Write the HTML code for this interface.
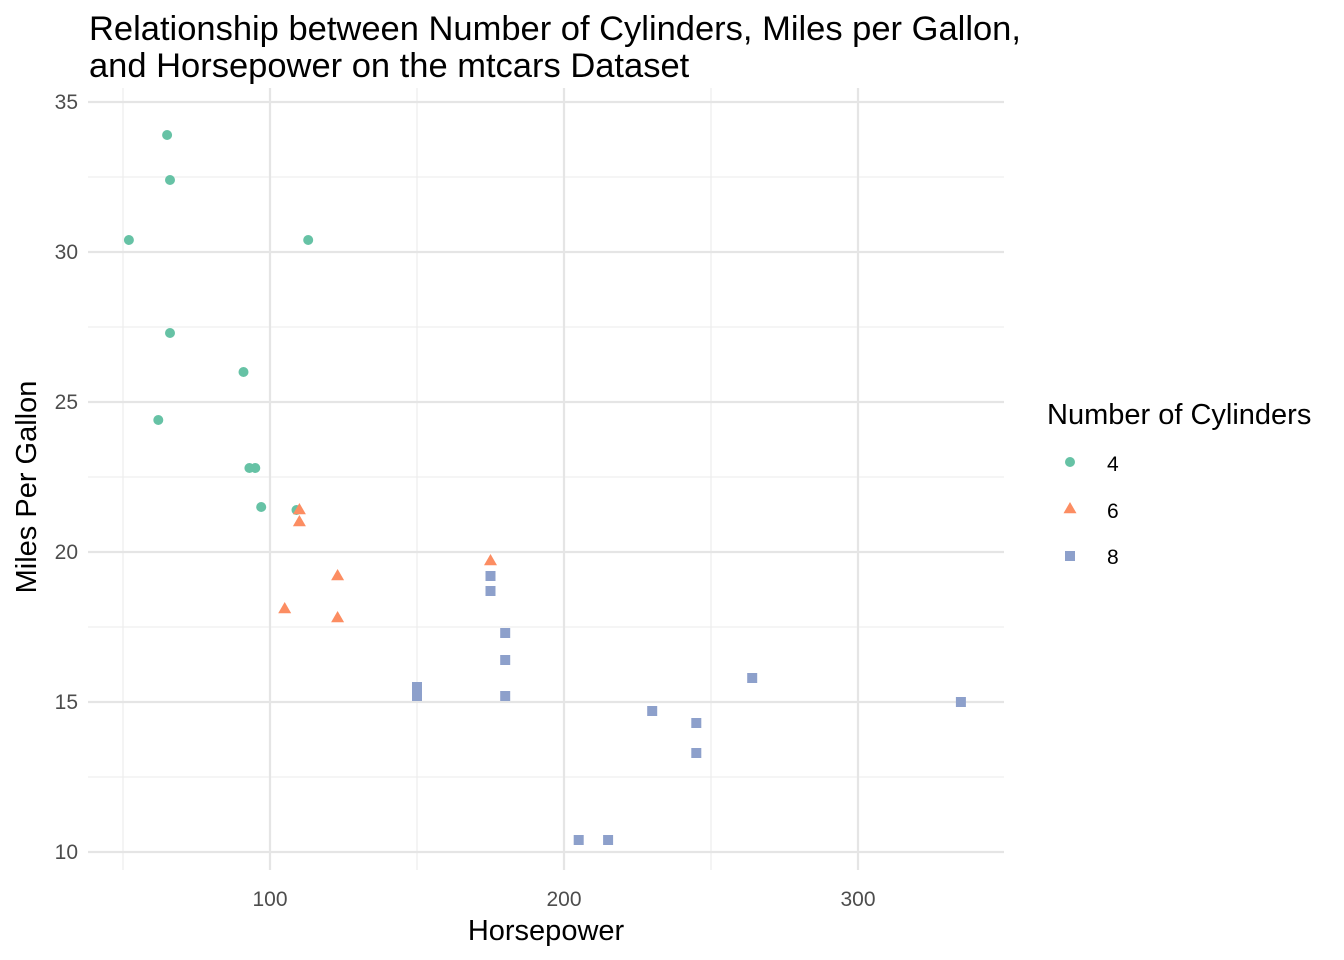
<!DOCTYPE html>
<html><head><meta charset="utf-8"><style>
html,body{margin:0;padding:0;background:#fff;}
svg{display:block;font-family:"Liberation Sans",Arial,sans-serif;}
</style></head><body>
<svg width="1344" height="960" viewBox="0 0 1344 960" xmlns="http://www.w3.org/2000/svg">
<rect width="1344" height="960" fill="#fff"/>
<g stroke="#ebebeb" stroke-width="1.1">
<line x1="88" x2="1004" y1="177" y2="177"/><line x1="88" x2="1004" y1="327" y2="327"/>
<line x1="88" x2="1004" y1="477" y2="477"/><line x1="88" x2="1004" y1="627" y2="627"/>
<line x1="88" x2="1004" y1="777" y2="777"/>
<line x1="123" x2="123" y1="88" y2="870"/><line x1="417" x2="417" y1="88" y2="870"/><line x1="711" x2="711" y1="88" y2="870"/>
</g>
<g stroke="#e5e5e5" stroke-width="2.2">
<line x1="88" x2="1004" y1="102" y2="102"/><line x1="88" x2="1004" y1="252" y2="252"/>
<line x1="88" x2="1004" y1="402" y2="402"/><line x1="88" x2="1004" y1="552" y2="552"/>
<line x1="88" x2="1004" y1="702" y2="702"/><line x1="88" x2="1004" y1="852" y2="852"/>
<line x1="270" x2="270" y1="88" y2="870"/><line x1="564" x2="564" y1="88" y2="870"/><line x1="858" x2="858" y1="88" y2="870"/>
</g>
<g fill="#4d4d4d" font-size="21" text-anchor="end">
<text x="78" y="109">35</text><text x="78" y="259">30</text><text x="78" y="409">25</text>
<text x="78" y="559">20</text><text x="78" y="709">15</text><text x="78" y="859">10</text>
</g>
<g fill="#4d4d4d" font-size="21" text-anchor="middle">
<text x="270" y="906">100</text><text x="564" y="906">200</text><text x="858" y="906">300</text>
</g>
<text x="546" y="940" font-size="29" text-anchor="middle" fill="#000">Horsepower</text>
<text transform="translate(36,487) rotate(-90)" font-size="29" text-anchor="middle" fill="#000">Miles Per Gallon</text>
<text x="89" y="40" font-size="34.5" fill="#000">Relationship between Number of Cylinders, Miles per Gallon,</text>
<text x="89" y="77" font-size="34.5" fill="#000">and Horsepower on the mtcars Dataset</text>
<g fill="#66c2a5">
<circle cx="249.4" cy="468" r="5"/><circle cx="158.3" cy="420" r="5"/><circle cx="255.3" cy="468" r="5"/>
<circle cx="170" cy="180" r="5"/><circle cx="128.9" cy="240" r="5"/><circle cx="167.1" cy="135" r="5"/>
<circle cx="261.2" cy="507" r="5"/><circle cx="170" cy="333" r="5"/><circle cx="243.5" cy="372" r="5"/>
<circle cx="308.2" cy="240" r="5"/><circle cx="296.5" cy="510" r="5"/>
</g>
<g fill="#fc8d62">
<path d="M299.4,515 l6.5,11.3 h-13z"/><path d="M299.4,503 l6.5,11.3 h-13z"/>
<path d="M284.7,602 l6.5,11.3 h-13z"/><path d="M337.6,569 l6.5,11.3 h-13z"/>
<path d="M337.6,611 l6.5,11.3 h-13z"/><path d="M490.5,554 l6.5,11.3 h-13z"/>
</g>
<g fill="#8da0cb">
<rect x="485.5" y="586" width="10" height="10"/><rect x="691.3" y="718" width="10" height="10"/>
<rect x="500.2" y="655" width="10" height="10"/><rect x="500.2" y="628" width="10" height="10"/>
<rect x="500.2" y="691" width="10" height="10"/><rect x="573.7" y="835" width="10" height="10"/>
<rect x="603.1" y="835" width="10" height="10"/><rect x="647.2" y="706" width="10" height="10"/>
<rect x="412" y="682" width="10" height="10"/><rect x="412" y="691" width="10" height="10"/>
<rect x="691.3" y="748" width="10" height="10"/><rect x="485.5" y="571" width="10" height="10"/>
<rect x="747.2" y="673" width="10" height="10"/><rect x="955.9" y="697" width="10" height="10"/>
</g>
<text x="1047" y="424" font-size="29" fill="#000">Number of Cylinders</text>
<circle cx="1070" cy="462" r="5" fill="#66c2a5"/>
<path d="M1070,502 l6.5,11.3 h-13z" fill="#fc8d62"/>
<rect x="1065" y="551" width="10" height="10" fill="#8da0cb"/>
<g font-size="21" fill="#000">
<text x="1107" y="471">4</text><text x="1107" y="518">6</text><text x="1107" y="564">8</text>
</g>
</svg>
</body></html>
